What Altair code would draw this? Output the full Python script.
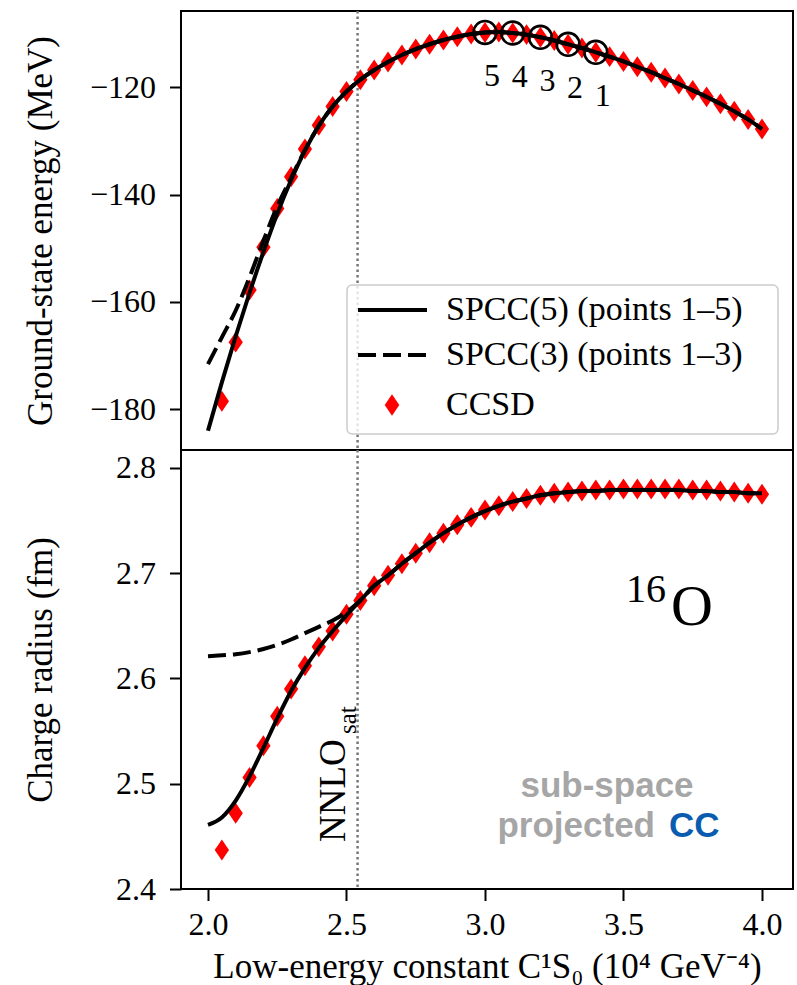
import altair as alt
import pandas as pd

# ---------------- data ----------------
X_CCSD = [2.05, 2.10, 2.15, 2.20, 2.25, 2.30, 2.35, 2.40, 2.45, 2.50,
          2.55, 2.60, 2.65, 2.70, 2.75, 2.80, 2.85, 2.90, 2.95, 3.00,
          3.05, 3.10, 3.15, 3.20, 3.25, 3.30, 3.35, 3.40, 3.45, 3.50,
          3.55, 3.60, 3.65, 3.70, 3.75, 3.80, 3.85, 3.90, 3.95, 4.00]
E_CCSD = [-178.5, -167.5, -157.8, -149.8, -142.6, -136.7, -131.5, -127.1, -123.6, -120.8,
          -118.6, -116.8, -115.3, -114.0, -112.9, -112.0, -111.2, -110.6, -110.1, -109.8,
          -109.7, -109.9, -110.2, -110.7, -111.3, -112.0, -112.7, -113.5, -114.3, -115.2,
          -116.2, -117.2, -118.3, -119.4, -120.6, -121.8, -123.1, -124.5, -126.0, -127.8]
R_CCSD = [2.437, 2.472, 2.506, 2.536, 2.564, 2.590, 2.612, 2.630, 2.645, 2.661,
          2.674, 2.688, 2.698, 2.709, 2.719, 2.729, 2.738, 2.746, 2.753, 2.760,
          2.764, 2.768, 2.771, 2.774, 2.776, 2.777, 2.778, 2.779, 2.779, 2.780,
          2.780, 2.780, 2.780, 2.780, 2.779, 2.779, 2.778, 2.777, 2.776, 2.775]

X_FIT = [2.00, 2.05, 2.10, 2.15, 2.20, 2.25, 2.30, 2.35, 2.40, 2.45, 2.50,
         2.55, 2.60, 2.65, 2.70, 2.75, 2.80, 2.85, 2.90, 2.95, 3.00,
         3.05, 3.10, 3.15, 3.20, 3.25, 3.30, 3.35, 3.40, 3.45, 3.50,
         3.55, 3.60, 3.65, 3.70, 3.75, 3.80, 3.85, 3.90, 3.95, 4.00]
E_SPCC5 = [-184.0, -175.0, -166.4, -158.3, -150.7, -143.6, -137.3, -131.8, -127.2, -123.6, -120.8,
           -118.6, -116.8, -115.3, -114.0, -112.9, -112.0, -111.2, -110.6, -110.1, -109.8,
           -109.7, -109.9, -110.2, -110.7, -111.3, -112.0, -112.7, -113.5, -114.3, -115.2,
           -116.2, -117.2, -118.3, -119.4, -120.6, -121.8, -123.1, -124.5, -126.0, -127.8]
E_SPCC3 = [-171.6, -166.6, -161.6, -155.4, -148.6, -142.2, -136.9, -131.7, -127.2, -123.6, -120.8,
           -118.6, -116.8, -115.3, -114.0, -112.9, -112.0, -111.2, -110.6, -110.1, -109.8,
           -109.7, -109.9, -110.2, -110.7, -111.3, -112.0, -112.7, -113.5, -114.3, -115.2,
           -116.2, -117.2, -118.3, -119.4, -120.6, -121.8, -123.1, -124.5, -126.0, -127.8]
R_SPCC5 = [2.461, 2.468, 2.484, 2.507, 2.534, 2.562, 2.588, 2.610, 2.629, 2.645, 2.660,
           2.674, 2.688, 2.698, 2.709, 2.719, 2.729, 2.738, 2.746, 2.753, 2.759,
           2.764, 2.768, 2.771, 2.774, 2.776, 2.777, 2.778, 2.778, 2.779, 2.779,
           2.779, 2.779, 2.779, 2.779, 2.778, 2.778, 2.777, 2.777, 2.776, 2.776]
R_SPCC3 = [2.621, 2.622, 2.623, 2.625, 2.628, 2.632, 2.637, 2.643, 2.649, 2.655, 2.663,
           2.674, 2.688, 2.698, 2.709, 2.719, 2.729, 2.738, 2.746, 2.753, 2.759,
           2.764, 2.768, 2.771, 2.774, 2.776, 2.777, 2.778, 2.778, 2.779, 2.779,
           2.779, 2.779, 2.779, 2.779, 2.778, 2.778, 2.777, 2.777, 2.776, 2.776]

X_TRAIN = [3.4, 3.3, 3.2, 3.1, 3.0]
E_TRAIN = [-113.5, -112.0, -110.7, -109.9, -109.8]
TRAIN_LABELS = ["1", "2", "3", "4", "5"]

NNLO_SAT = [2.54]
X_TICKS = [2.0, 2.5, 3.0, 3.5, 4.0]
E_TICKS = [-180, -160, -140, -120]
R_TICKS = [2.4, 2.5, 2.6, 2.7, 2.8]

LEGEND_LABELS = ["SPCC(5) (points 1–5)", "SPCC(3) (points 1–3)", "CCSD"]

# ---------------- styling ----------------
SERIF = "Liberation Serif"
SANS = "Liberation Sans"
W, H = 612, 439
DIAMOND = "M0,-1L0.68,0L0,1L-0.68,0Z"
RED = "#ff0000"
LW = 4

xscale = alt.Scale(domain=[1.9025, 4.112], nice=False, zero=False)
escale = alt.Scale(domain=[-187.6, -105.8], nice=False, zero=False)
rscale = alt.Scale(domain=[2.4, 2.817], nice=False, zero=False)

x_axis_bottom = alt.Axis(values=X_TICKS, format=".1f",
                         title="Low-energy constant C¹S₀ (10⁴ GeV⁻⁴)",
                         titleX=W / 2, titleY=88, titleBaseline="alphabetic",
                         titleAlign="center", titleFontSize=35,
                         labelBaseline="alphabetic", labelPadding=34)


def xenc(show_axis):
    if show_axis:
        return alt.X("x:Q", scale=xscale, axis=x_axis_bottom)
    return alt.X("x:Q", scale=xscale, axis=None)


def yaxis(values, title, fmt):
    return alt.Axis(values=values, title=title, format=fmt,
                    titleX=-141, titleY=H / 2, titleAngle=270,
                    titleBaseline="middle", titleAlign="center",
                    labelPadding=14)


e_axis = yaxis(E_TICKS, "Ground-state energy (MeV)", "d")
r_axis = yaxis(R_TICKS, "Charge radius (fm)", ".1f")


def yenc(scale, axis):
    return alt.Y("y:Q", scale=scale, axis=axis)


one = pd.DataFrame({"k": [0]})


def panel(ccsd_y, spcc5_y, spcc3_y, scale, axis, show_x):
    ccsd = pd.DataFrame({"x": X_CCSD, "y": ccsd_y})
    s5 = pd.DataFrame({"x": X_FIT, "y": spcc5_y})
    s3 = pd.DataFrame({"x": X_FIT, "y": spcc3_y})
    rule = alt.Chart(pd.DataFrame({"x": NNLO_SAT})).mark_rule(
        color="#777777", strokeDash=[2.5, 3], strokeWidth=2.5
    ).encode(x=xenc(show_x))
    pts = alt.Chart(ccsd).mark_point(
        shape=DIAMOND, filled=True, color=RED, opacity=1, size=440
    ).encode(x=xenc(show_x), y=yenc(scale, axis))
    l3 = alt.Chart(s3).mark_line(
        color="black", strokeWidth=LW, strokeDash=[18, 7], interpolate="monotone"
    ).encode(x=xenc(show_x), y=yenc(scale, axis))
    l5 = alt.Chart(s5).mark_line(
        color="black", strokeWidth=LW, interpolate="monotone"
    ).encode(x=xenc(show_x), y=yenc(scale, axis))
    return [rule, pts, l3, l5]


# ---------------- top panel ----------------
top_layers = panel(E_CCSD, E_SPCC5, E_SPCC3, escale, e_axis, False)
train = pd.DataFrame({"x": X_TRAIN, "y": E_TRAIN, "label": TRAIN_LABELS})
circles = alt.Chart(train).mark_point(
    shape="circle", filled=False, color="black", strokeWidth=2.6, size=520, opacity=1
).encode(x=xenc(False), y=yenc(escale, e_axis))
nums = alt.Chart(train).mark_text(
    font=SERIF, fontSize=32, color="black", dx=7, dy=44, baseline="middle"
).encode(x=xenc(False), y=yenc(escale, e_axis), text="label:N")

leg_box = alt.Chart(one).mark_rect(
    fill="white", fillOpacity=0.8, stroke="#cccccc", strokeWidth=1.5, cornerRadius=5
).encode(x=alt.value(166), x2=alt.value(597), y=alt.value(274), y2=alt.value(423))
leg_l5 = alt.Chart(one).mark_rule(color="black", strokeWidth=LW).encode(
    x=alt.value(177), x2=alt.value(246), y=alt.value(299))
leg_l3 = alt.Chart(one).mark_rule(color="black", strokeWidth=LW, strokeDash=[18, 7]).encode(
    x=alt.value(177), x2=alt.value(246), y=alt.value(344))
leg_pt = alt.Chart(one).mark_point(shape=DIAMOND, filled=True, color=RED, opacity=1, size=460).encode(
    x=alt.value(211), y=alt.value(394))
leg_texts = [
    alt.Chart(one).mark_text(text=lab, font=SERIF, fontSize=34, color="black",
                             align="left", baseline="middle").encode(
        x=alt.value(265), y=alt.value(yy))
    for lab, yy in zip(LEGEND_LABELS, [299, 344, 394])
]

top = alt.layer(*top_layers, circles, nums, leg_box, leg_l5, leg_l3, leg_pt, *leg_texts).properties(
    width=W, height=H)

# ---------------- bottom panel ----------------
bot_layers = panel(R_CCSD, R_SPCC5, R_SPCC3, rscale, r_axis, True)

nnlo = alt.Chart(one).mark_text(text="NNLO", font=SERIF, fontSize=37, color="black",
                                angle=270, align="left", baseline="middle").encode(
    x=alt.value(153), y=alt.value(392))
sat = alt.Chart(one).mark_text(text="sat", font=SERIF, fontSize=25, color="black",
                               angle=270, align="left", baseline="middle").encode(
    x=alt.value(167), y=alt.value(284))
sup16 = alt.Chart(one).mark_text(text="16", font=SERIF, fontSize=40, color="black",
                                 align="left", baseline="alphabetic").encode(
    x=alt.value(445), y=alt.value(152))
oxy = alt.Chart(one).mark_text(text="O", font=SERIF, fontSize=58, color="black",
                               align="left", baseline="alphabetic").encode(
    x=alt.value(490), y=alt.value(175))
sub1 = alt.Chart(one).mark_text(text="sub-space", font=SANS, fontSize=35, fontWeight="bold",
                                color="#a6a6a6", align="center", baseline="alphabetic").encode(
    x=alt.value(426), y=alt.value(347))
sub2 = alt.Chart(one).mark_text(text="projected", font=SANS, fontSize=35, fontWeight="bold",
                                color="#a6a6a6", align="right", baseline="alphabetic").encode(
    x=alt.value(474), y=alt.value(387))
sub3 = alt.Chart(one).mark_text(text="CC", font=SANS, fontSize=35, fontWeight="bold",
                                color="#0a5cb0", align="left", baseline="alphabetic").encode(
    x=alt.value(488), y=alt.value(387))

bottom = alt.layer(*bot_layers, nnlo, sat, sup16, oxy, sub1, sub2, sub3).properties(
    width=W, height=H)

chart = alt.vconcat(top, bottom, spacing=0, bounds="flush").properties(
    padding={"left": 22, "top": 8, "right": 3, "bottom": 2},
    background="white",
).configure_view(
    stroke="black", strokeWidth=2
).configure_axis(
    labelFont=SERIF, labelFontSize=32, labelColor="black",
    titleFont=SERIF, titleFontSize=35, titleFontWeight="normal", titleColor="black",
    tickColor="black", tickWidth=2, tickSize=11.5,
    domain=False, grid=False,
)

chart.save("out.html", embed_options={"renderer": "svg", "actions": False})
